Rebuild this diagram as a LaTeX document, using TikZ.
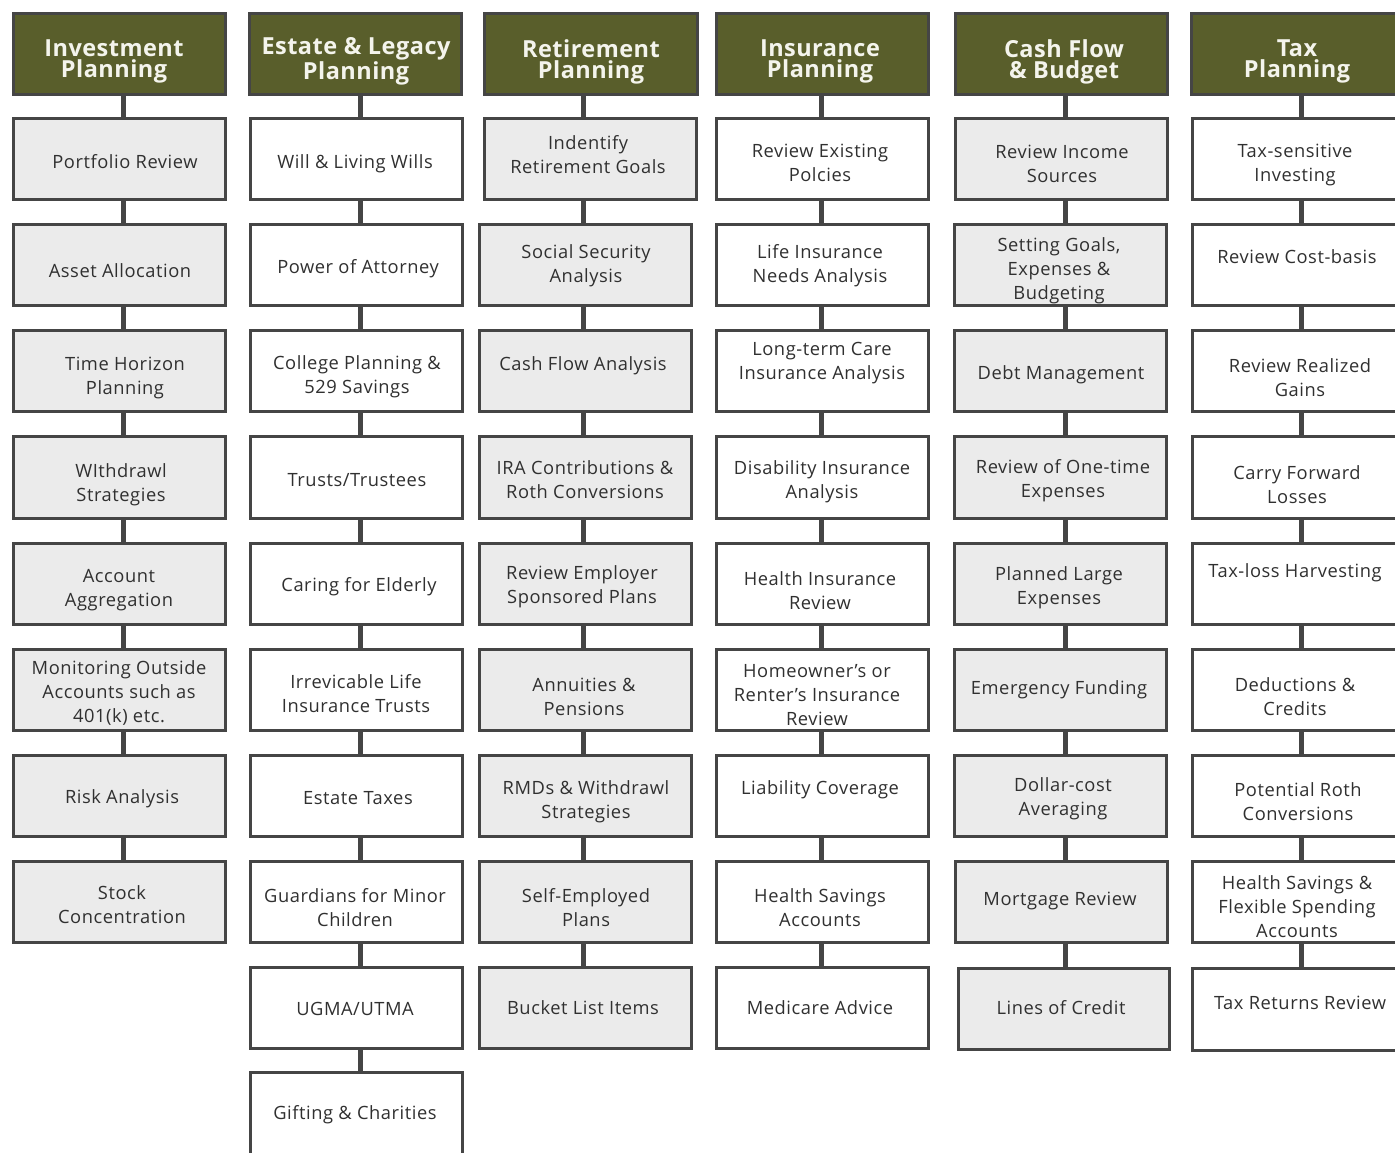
\documentclass[tikz,border=0pt]{standalone}
\usepackage{fontspec}
\setmainfont{Open Sans}[LetterSpace=3]
\newfontfamily\hdrfont{Open Sans}[LetterSpace=2]
\definecolor{olive}{HTML}{595E2B}
\definecolor{edge}{HTML}{454545}
\definecolor{lgray}{HTML}{EBEBEB}
\definecolor{ink}{HTML}{303030}
\definecolor{hink}{HTML}{F4F4EC}
\tikzset{
  boxbase/.style={draw=edge, line width=3pt, rectangle, inner sep=0pt},
  hdr/.style={boxbase, fill=olive},
  gbox/.style={boxbase, fill=lgray},
  wbox/.style={boxbase, fill=white},
  hdrtxt/.style={text=hink, align=center, font=\hdrfont\fontsize{23.5}{21}\selectfont\bfseries, inner sep=0pt},
  gboxtxt/.style={text=ink, align=center, font=\fontsize{18.3}{24}\selectfont, inner sep=0pt},
  wboxtxt/.style={gboxtxt},
  conn/.style={draw=edge, line width=5pt}
}
\newcommand\bx[9]{%
  \pgfmathsetmacro\bxw{#4-#2-3}\pgfmathsetmacro\bxh{#5-#3-3}%
  \node[#6, minimum width=\bxw pt, minimum height=\bxh pt] (#1) at ({(#2+#4)/2},{(#3+#5)/2}) {};%
  \node[#6txt] at (#7,#8+1.5) {#9};}
\begin{document}
\begin{tikzpicture}[x=1pt,y=-1pt]
\useasboundingbox (0,0) rectangle (1395,1152);
\clip (0,0) rectangle (1395,1152);
\fill[white] (0,0) rectangle (1395,1152);
\coordinate (x1) at (123,0);
\coordinate (x2) at (360,0);
\coordinate (x3) at (583,0);
\coordinate (x4) at (821,0);
\coordinate (x5) at (1065,0);
\coordinate (x6) at (1301,0);
% Column 1
\bx{a0}{12}{12}{227}{96}{hdr}{114}{60}{Investment\\Planning}
\bx{a1}{12}{117}{227}{201}{gbox}{125}{160}{Portfolio Review}
\bx{a2}{12}{223}{227}{307}{gbox}{120}{269}{Asset Allocation}
\bx{a3}{12}{329}{227}{413}{gbox}{125}{376}{Time Horizon\\Planning}
\bx{a4}{12}{435}{227}{520}{gbox}{121}{483}{WIthdrawl\\Strategies}
\bx{a5}{12}{542}{227}{626}{gbox}{119}{589}{Account\\Aggregation}
\bx{a6}{12}{648}{227}{732}{gbox}{119}{691}{Monitoring Outside\\Accounts such as\\401(k) etc.}
\bx{a7}{12}{754}{227}{838}{gbox}{122}{797}{Risk Analysis}
\bx{a8}{12}{860}{227}{944}{gbox}{122}{903}{Stock\\Concentration}
% Column 2
\bx{b0}{248}{12}{463}{96}{hdr}{356}{60}{Estate \& Legacy\\Planning}
\bx{b1}{249}{117}{464}{201}{wbox}{355}{162}{Will \& Living Wills}
\bx{b2}{249}{223}{464}{307}{wbox}{358}{267}{Power of Attorney}
\bx{b3}{249}{329}{464}{413}{wbox}{357}{375}{College Planning \&\\529 Savings}
\bx{b4}{249}{435}{464}{520}{wbox}{357}{479}{Trusts/Trustees}
\bx{b5}{249}{542}{464}{626}{wbox}{359}{585}{Caring for Elderly}
\bx{b6}{249}{648}{464}{732}{wbox}{356}{692}{Irrevicable Life\\Insurance Trusts}
\bx{b7}{249}{754}{464}{838}{wbox}{358}{797}{Estate Taxes}
\bx{b8}{249}{860}{464}{944}{wbox}{355}{906}{Guardians for Minor\\Children}
\bx{b9}{249}{966}{464}{1050}{wbox}{355}{1007}{UGMA/UTMA}
\bx{b10}{249}{1071}{464}{1160}{wbox}{355}{1113}{Gifting \& Charities}
% Column 3
\bx{c0}{483}{12}{699}{96}{hdr}{591}{60}{Retirement\\Planning}
\bx{c1}{483}{117}{698}{201}{gbox}{588}{153}{Indentify\\Retirement Goals}
\bx{c2}{478}{223}{693}{307}{gbox}{586}{264}{Social Security\\Analysis}
\bx{c3}{478}{329}{693}{413}{gbox}{583}{364}{Cash Flow Analysis}
\bx{c4}{478}{435}{693}{520}{gbox}{585}{478}{IRA Contributions \&\\Roth Conversions}
\bx{c5}{478}{542}{693}{626}{gbox}{582}{585}{Review Employer\\Sponsored Plans}
\bx{c6}{478}{648}{693}{732}{gbox}{584}{695}{Annuities \&\\Pensions}
\bx{c7}{478}{754}{693}{838}{gbox}{586}{800}{RMDs \& Withdrawl\\Strategies}
\bx{c8}{478}{860}{693}{944}{gbox}{586}{906}{Self-Employed\\Plans}
\bx{c9}{478}{966}{693}{1050}{gbox}{583}{1006}{Bucket List Items}
% Column 4
\bx{d0}{715}{12}{930}{96}{hdr}{820}{60}{Insurance\\Planning}
\bx{d1}{715}{117}{930}{201}{wbox}{820}{161}{Review Existing\\Polcies}
\bx{d2}{715}{223}{930}{307}{wbox}{820}{264}{Life Insurance\\Needs Analysis}
\bx{d3}{715}{329}{930}{413}{wbox}{822}{362}{Long-term Care\\Insurance Analysis}
\bx{d4}{715}{435}{930}{520}{wbox}{822}{480}{Disability Insurance\\Analysis}
\bx{d5}{715}{542}{930}{626}{wbox}{820}{589}{Health Insurance\\Review}
\bx{d6}{715}{648}{930}{732}{wbox}{817}{694}{Homeowner’s or\\Renter’s Insurance\\Review}
\bx{d7}{715}{754}{930}{838}{wbox}{820}{788}{Liability Coverage}
\bx{d8}{715}{860}{930}{944}{wbox}{820}{906}{Health Savings\\Accounts}
\bx{d9}{715}{966}{930}{1050}{wbox}{820}{1006}{Medicare Advice}
% Column 5
\bx{e0}{954}{12}{1169}{96}{hdr}{1064}{60}{Cash Flow\\\& Budget}
\bx{e1}{954}{117}{1169}{201}{gbox}{1062}{162}{Review Income\\Sources}
\bx{e2}{953}{223}{1168}{307}{gbox}{1059}{269}{Setting Goals,\\Expenses \&\\Budgeting}
\bx{e3}{953}{329}{1168}{413}{gbox}{1061}{373}{Debt Management}
\bx{e4}{953}{435}{1168}{520}{gbox}{1063}{479}{Review of One-time\\Expenses}
\bx{e5}{953}{542}{1168}{626}{gbox}{1059}{586}{Planned Large\\Expenses}
\bx{e6}{953}{648}{1168}{732}{gbox}{1059}{688}{Emergency Funding}
\bx{e7}{953}{754}{1168}{838}{gbox}{1063}{797}{Dollar-cost\\Averaging}
\bx{e8}{954}{860}{1169}{944}{gbox}{1060}{899}{Mortgage Review}
\bx{e9}{957}{967}{1171}{1051}{gbox}{1061}{1006}{Lines of Credit}
% Column 6
\bx{f0}{1190}{12}{1405}{96}{hdr}{1297}{60}{Tax\\Planning}
\bx{f1}{1191}{117}{1406}{201}{wbox}{1295}{163}{Tax-sensitive\\Investing}
\bx{f2}{1191}{223}{1406}{307}{wbox}{1297}{255}{Review Cost-basis}
\bx{f3}{1191}{329}{1406}{413}{wbox}{1300}{376}{Review Realized\\Gains}
\bx{f4}{1191}{435}{1406}{520}{wbox}{1297}{483}{Carry Forward\\Losses}
\bx{f5}{1191}{542}{1406}{626}{wbox}{1295}{571}{Tax-loss Harvesting}
\bx{f6}{1191}{648}{1406}{732}{wbox}{1295}{695}{Deductions \&\\Credits}
\bx{f7}{1191}{754}{1406}{838}{wbox}{1298}{800}{Potential Roth\\Conversions}
\bx{f8}{1191}{860}{1406}{944}{wbox}{1297}{905}{Health Savings \&\\Flexible Spending\\Accounts}
\bx{f9}{1191}{967}{1406}{1052}{wbox}{1300}{1001}{Tax Returns Review}
% Connectors
\foreach \c/\n/\k in {a/8/1,b/10/2,c/9/3,d/9/4,e/9/5,f/9/6}{
  \pgfmathtruncatemacro\last{\n-1}
  \foreach \i in {0,...,\last}{
    \pgfmathtruncatemacro\j{\i+1}
    \draw[conn] (\c\i.south -| x\k) -- (\c\j.north -| x\k);
  }
}
\end{tikzpicture}
\end{document}
